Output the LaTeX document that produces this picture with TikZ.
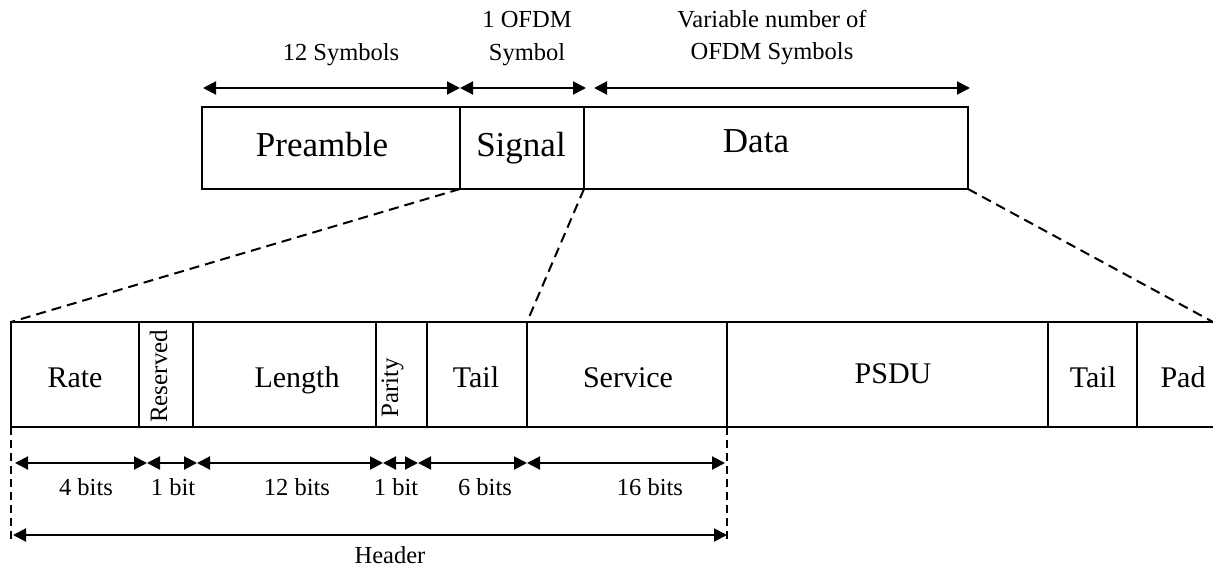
\documentclass[tikz,border=0pt]{standalone}
\usepackage{fontspec}
\setmainfont{Liberation Serif}
\usetikzlibrary{arrows.meta}

\begin{document}
\begin{tikzpicture}[x=1pt,y=-1pt,
  cell/.style={draw, line width=2pt, inner sep=0pt, outer sep=0pt, anchor=north west},
  bigtxt/.style={inner sep=0pt, anchor=base, font=\fontsize{35}{40}\selectfont},
  fieldtxt/.style={inner sep=0pt, anchor=base, font=\fontsize{30}{34}\selectfont},
  smalltxt/.style={inner sep=0pt, anchor=base, font=\fontsize{24.5}{30}\selectfont},
  vtxt/.style={inner sep=0pt, anchor=base west, rotate=90, font=\fontsize{25}{30}\selectfont},
  dim/.style={line width=2pt, {Triangle[length=13pt,width=13pt]}-{Triangle[length=13pt,width=13pt]}},
  zoomline/.style={line width=2pt, dash pattern=on 10pt off 6pt},
  guide/.style={line width=1.6pt, dash pattern=on 8pt off 5pt}
]
\useasboundingbox (0,0) rectangle (1213,569);

% PPDU frame
\node[cell, line width=2.2pt, minimum width=258pt, minimum height=82pt] (pre) at (202,107) {};
\node[cell, line width=2.2pt, minimum width=124pt, minimum height=82pt] (sig) at (460,107) {};
\node[cell, line width=2.2pt, minimum width=384pt, minimum height=82pt] (dat) at (584,107) {};
\node[bigtxt] (pretxt) at (322,157) {Preamble};
\node[bigtxt] (sigtxt) at (521,157) {Signal};
\node[bigtxt] (dattxt) at (756,153) {Data};

% durations above the frame
\coordinate (a0) at (203,88);
\coordinate (a1) at (460,88);
\coordinate (a2) at (586,88);
\coordinate (a3) at (594,88);
\coordinate (a4) at (970,88);
\draw[dim] (a0) -- (a1);
\draw[dim] (a1) -- (a2);
\draw[dim] (a3) -- (a4);
\node[smalltxt] (d1) at (341,61) {12 Symbols};
\node[smalltxt] (d2a) at (527,28) {1 OFDM};
\node[smalltxt] (d2b) at (527,61) {Symbol};
\node[smalltxt] (d3a) at (772,28) {Variable number of};
\node[smalltxt] (d3b) at (772,60) {OFDM Symbols};

% expanded fields
\node[cell, minimum width=128pt, minimum height=105pt] (rate) at (11,322) {};
\node[cell, minimum width=54pt,  minimum height=105pt] (res)  at (139,322) {};
\node[cell, minimum width=183pt, minimum height=105pt] (len)  at (193,322) {};
\node[cell, minimum width=51pt,  minimum height=105pt] (par)  at (376,322) {};
\node[cell, minimum width=100pt, minimum height=105pt] (tl1)  at (427,322) {};
\node[cell, minimum width=200pt, minimum height=105pt] (srv)  at (527,322) {};
\node[cell, minimum width=321pt, minimum height=105pt] (psdu) at (727,322) {};
\node[cell, minimum width=89pt,  minimum height=105pt] (tl2)  at (1048,322) {};
\node[cell, draw=none, minimum width=76pt, minimum height=105pt] (pad) at (1137,322) {};
\draw[line width=2pt] (pad.north west) -- (pad.north east);
\draw[line width=2pt] (pad.south west) -- (pad.south east);

\node[fieldtxt] (ratetxt) at (75,387) {Rate};
\node[vtxt] (restxt) at (167,423) {Reserved};
\node[fieldtxt] (lentxt) at (297,387) {Length};
\node[vtxt] (partxt) at (398,418) {Parity};
\node[fieldtxt] (tl1txt) at (476,387) {Tail};
\node[fieldtxt] (srvtxt) at (628,387) {Service};
\node[fieldtxt] (psdutxt) at (893,383) {PSDU};
\node[fieldtxt] (tl2txt) at (1093,387) {Tail};
\node[fieldtxt] (padtxt) at (1183,387) {Pad};

% zoom lines from the frame to the fields
\draw[zoomline] (sig.south west) -- (rate.north west);
\draw[zoomline] (sig.south east) -- (srv.north west);
\draw[zoomline] (dat.south east) -- (pad.north east);

% bit widths
\coordinate (b0) at (15,463);
\coordinate (b1) at (147,463);
\coordinate (b2) at (197,463);
\coordinate (b3) at (383,463);
\coordinate (b4) at (418,463);
\coordinate (b5) at (527,463);
\coordinate (b6) at (725,463);
\draw[dim] (b0) -- (b1);
\draw[dim] (b1) -- (b2);
\draw[dim] (b2) -- (b3);
\draw[dim] (b3) -- (b4);
\draw[dim] (b4) -- (b5);
\draw[dim] (b5) -- (b6);
\node[smalltxt] (w1) at (86,495) {4 bits};
\node[smalltxt] (w2) at (173,495) {1 bit};
\node[smalltxt] (w3) at (297,495) {12 bits};
\node[smalltxt] (w4) at (396,495) {1 bit};
\node[smalltxt] (w5) at (485,495) {6 bits};
\node[smalltxt] (w6) at (650,495) {16 bits};

% header extent
\coordinate (g0) at (11,540);
\coordinate (g1) at (727,540);
\draw[guide] (rate.south west) -- (g0);
\draw[guide] (srv.south east) -- (g1);
\coordinate (h0) at (13,535);
\coordinate (h1) at (727,535);
\draw[dim] (h0) -- (h1);
\node[smalltxt] (hdr) at (390,563) {Header};
\end{tikzpicture}
\end{document}
